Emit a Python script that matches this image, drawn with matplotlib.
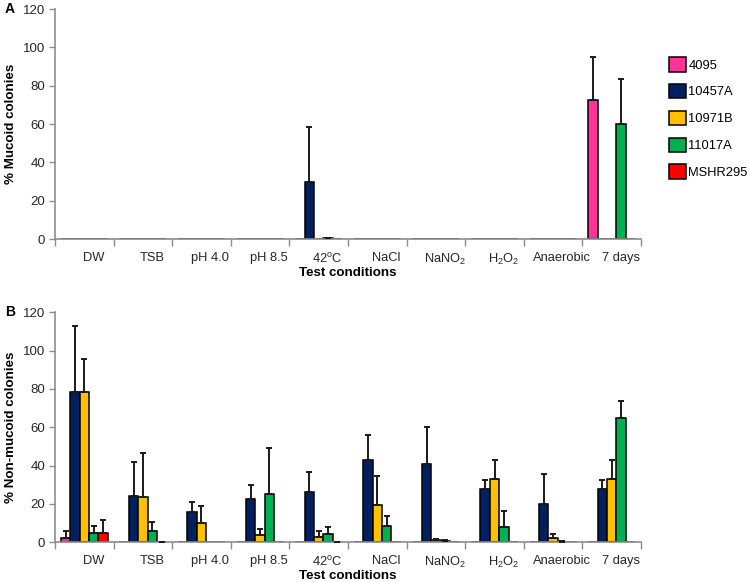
import numpy as np
import matplotlib
matplotlib.use("Agg")
import matplotlib.pyplot as plt
from matplotlib.transforms import ScaledTranslation

plt.rcParams['font.family'] = ['Liberation Sans', 'DejaVu Sans']
plt.rcParams['mathtext.fontset'] = 'custom'
plt.rcParams['mathtext.rm'] = 'Liberation Sans'
plt.rcParams['mathtext.default'] = 'regular'

conditions = ['DW', 'TSB', 'pH 4.0', 'pH 8.5', '42$^o$C', 'NaCl',
              'NaNO$_2$', 'H$_2$O$_2$', 'Anaerobic', '7 days']
strains = ['4095', '10457A', '10971B', '11017A', 'MSHR295']
colors = ['#FF3399', '#002060', '#FFC000', '#00B050', '#FF0000']

# panel A - % mucoid colonies (one list per strain, one value per condition)
muc_4095 = [0, 0, 0, 0, 0, 0, 0, 0, 0, 72.4]
muc_10457A = [0, 0, 0, 0, 29.8, 0, 0, 0, 0, 0]
muc_10971B = [0, 0, 0, 0, 0, 0, 0, 0, 0, 0]
muc_11017A = [0, 0, 0, 0, 0.5, 0, 0, 0, 0, 60.1]
muc_MSHR295 = [0, 0, 0, 0, 0, 0, 0, 0, 0, 0]

muc_err_4095 = [0, 0, 0, 0, 0, 0, 0, 0, 0, 22.5]
muc_err_10457A = [0, 0, 0, 0, 28.7, 0, 0, 0, 0, 0]
muc_err_10971B = [0, 0, 0, 0, 0, 0, 0, 0, 0, 0]
muc_err_11017A = [0, 0, 0, 0, 0.2, 0, 0, 0, 0, 23.5]
muc_err_MSHR295 = [0, 0, 0, 0, 0, 0, 0, 0, 0, 0]

# panel B - % non-mucoid colonies
non_4095 = [2.3, 0, 0, 0, 0, 0, 0, 0, 0, 0]
non_10457A = [78.3, 24.3, 15.7, 22.4, 26.4, 42.8, 41.0, 27.8, 20.0, 27.8]
non_10971B = [78.4, 23.8, 10.1, 3.8, 3.0, 19.7, 1.2, 33.0, 2.4, 33.0]
non_11017A = [4.9, 6.1, 0, 25.0, 4.5, 8.3, 0.8, 8.2, 0.3, 64.9]
non_MSHR295 = [4.7, 0.3, 0, 0, 0.2, 0, 0, 0, 0, 0]

non_err_4095 = [3.4, 0, 0, 0, 0, 0, 0, 0, 0, 0]
non_err_10457A = [34.8, 17.4, 5.2, 7.7, 10.1, 13.2, 19.3, 4.9, 15.5, 4.9]
non_err_10971B = [17.0, 22.6, 8.7, 3.3, 3.1, 14.9, 0.5, 10.1, 1.8, 10.1]
non_err_11017A = [3.8, 4.3, 0, 24.2, 3.7, 5.6, 0.4, 8.0, 0.2, 9.0]
non_err_MSHR295 = [6.8, 0, 0, 0, 0, 0, 0, 0, 0, 0]

mucoid = [muc_4095, muc_10457A, muc_10971B, muc_11017A, muc_MSHR295]
mucoid_err = [muc_err_4095, muc_err_10457A, muc_err_10971B, muc_err_11017A, muc_err_MSHR295]
nonmucoid = [non_4095, non_10457A, non_10971B, non_11017A, non_MSHR295]
nonmucoid_err = [non_err_4095, non_err_10457A, non_err_10971B, non_err_11017A, non_err_MSHR295]

fig = plt.figure(figsize=(7.5, 5.82), dpi=100)
ax_a = fig.add_axes([0.0733, 0.5893, 0.7814, 0.3952])
ax_b = fig.add_axes([0.0733, 0.0682, 0.7814, 0.3952])

x = np.arange(len(conditions))
w = 0.16
grey = '#8c8c8c'
txt = '#262626'


def draw_panel(ax, vals, errs, ylabel, letter):
    for j in range(len(strains)):
        v = np.array(vals[j])
        e = np.array(errs[j])
        pos = x + (j - 2) * w
        ax.bar(pos, v, w, color=colors[j], edgecolor='black', linewidth=1.1,
               label=strains[j], zorder=2)
        m = v + e > 0
        ax.errorbar(pos[m], v[m], yerr=[np.zeros(m.sum()), e[m]], fmt='none',
                    ecolor='#1a1a1a', elinewidth=1.4, capsize=2.5, capthick=1.4,
                    zorder=3)
    ax.set_xlim(-0.5, len(conditions) - 0.5)
    ax.set_ylim(0, 120)
    ax.set_yticks(np.arange(0, 121, 20))
    ax.set_xticks(np.arange(-0.5, len(conditions), 1.0))
    ax.set_xticklabels([])
    ax.set_xticks(x, minor=True)
    ax.set_xticklabels(conditions, minor=True)
    ax.tick_params(axis='x', which='major', length=5, width=1, color=grey, direction='out')
    ax.tick_params(axis='x', which='minor', length=0, pad=9, labelsize=9.3, labelcolor=txt)
    ax.tick_params(axis='y', length=4, width=1, color=grey, direction='out',
                   labelsize=9.5, labelcolor=txt, pad=3)
    off = ScaledTranslation(9 / 100, 0, fig.dpi_scale_trans)
    for lab in ax.get_xticklabels(minor=True):
        lab.set_transform(lab.get_transform() + off)
    for s in ['top', 'right']:
        ax.spines[s].set_visible(False)
    for s in ['left', 'bottom']:
        ax.spines[s].set_color(grey)
        ax.spines[s].set_linewidth(1.2)
    ax.set_ylabel(ylabel, fontsize=9.6, fontweight='bold', labelpad=4)
    ax.set_xlabel('Test conditions', fontsize=9.6, fontweight='bold', labelpad=0)
    ax.text(-0.068, 1.0, letter, transform=ax.transAxes, fontsize=10,
            fontweight='bold', va='center', ha='right')


draw_panel(ax_a, mucoid, mucoid_err, '% Mucoid colonies', 'A')
draw_panel(ax_b, nonmucoid, nonmucoid_err, '% Non-mucoid colonies', 'B')

ax_a.legend(loc='upper left', bbox_to_anchor=(0.892, 0.902),
            bbox_transform=fig.transFigure, frameon=False, fontsize=9.3,
            handlelength=1.35, handleheight=1.35, handletextpad=0.15,
            labelspacing=0.95, borderpad=0, borderaxespad=0)

fig.savefig('out.png', dpi=100)
